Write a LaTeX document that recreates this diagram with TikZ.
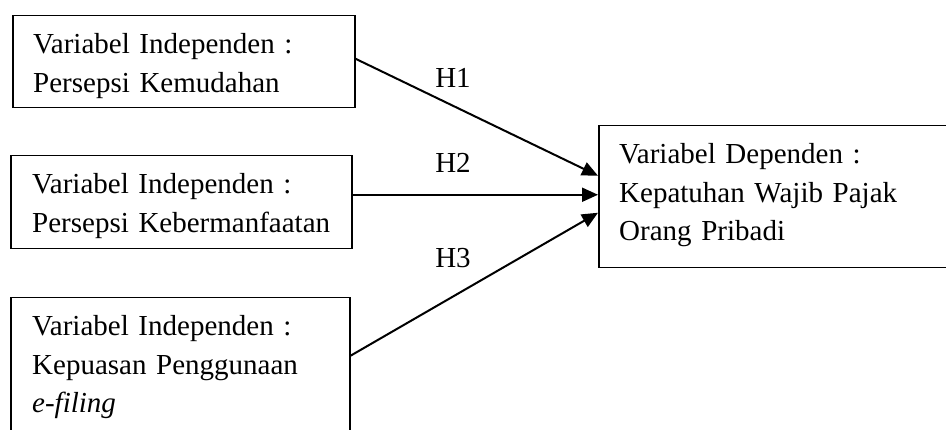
\documentclass[tikz,border=0pt]{standalone}
\usepackage{fontspec}
\setmainfont{Liberation Serif}
\usetikzlibrary{arrows.meta}
\begin{document}
\begin{tikzpicture}[x=1pt,y=-1pt,
  box/.style={draw, line width=1.5pt, rectangle, inner sep=0pt, anchor=north west},
  txt/.style={anchor=base west, inner sep=0pt, align=left, text width=320pt, font=\fontsize{29}{38.3}\selectfont},
  hlab/.style={anchor=base, inner sep=0pt, font=\fontsize{29}{38.3}\selectfont},
  conn/.style={line width=2pt, -{Triangle[length=16pt,width=14pt]}}]
\clip (0,0) rectangle (946,430);
\fill[white] (0,0) rectangle (946,430);
\node[box, minimum width=342pt, minimum height=92pt] (b1) at (12,15) {};
\node[box, minimum width=341pt, minimum height=93pt] (b2) at (10,155) {};
\node[box, minimum width=339pt, minimum height=143pt] (b3) at (10,297) {};
\node[box, minimum width=362pt, minimum height=142pt] (b4) at (598,125) {};
\node[txt] (t1) at (33,54) {Variabel Independen :\\Persepsi Kemudahan};
\node[txt] (t2) at (32,194) {Variabel Independen :\\Persepsi Kebermanfaatan};
\node[txt] (t3) at (32,336) {Variabel Independen :\\Kepuasan Penggunaan\\\textit{e-filing}};
\node[txt] (t4) at (619,164) {Variabel Dependen :\\Kepatuhan Wajib Pajak\\Orang Pribadi};
\draw[conn] ([yshift=3pt]b1.east) -- ([yshift=21pt]b4.west);
\draw[conn] ([yshift=7.5pt]b2.east) -- ([yshift=2pt]b4.west);
\draw[conn] ([yshift=13.5pt]b3.east) -- ([yshift=-16pt]b4.west);
\node[hlab] (h1) at (453,88) {H1};
\node[hlab] (h2) at (453,173) {H2};
\node[hlab] (h3) at (453,268) {H3};
\end{tikzpicture}
\end{document}
